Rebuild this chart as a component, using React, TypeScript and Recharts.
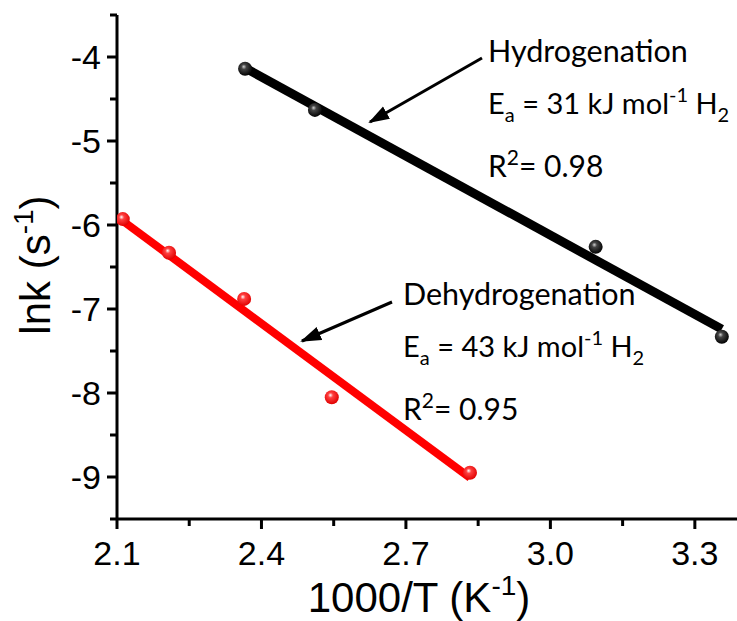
import React from 'react';
import { ComposedChart, Scatter, XAxis, YAxis } from 'recharts';

// values
const hydX = [2.366, 2.511, 3.094, 3.356];
const hydY = [-4.14, -4.63, -6.26, -7.33];
const hydFitX = [2.366, 3.356];
const hydFitY = [-4.13, -7.24];

const dehX = [2.112, 2.208, 2.364, 2.546, 2.833];
const dehY = [-5.93, -6.33, -6.88, -8.05, -8.95];
const dehFitX = [2.1, 2.833];
const dehFitY = [-5.9, -9.01];

const xTicks = [2.1, 2.25, 2.4, 2.55, 2.7, 2.85, 3.0, 3.15, 3.3];
const xMajor = [2.1, 2.4, 2.7, 3.0, 3.3];
const yTicks = [-9.5, -9, -8.5, -8, -7.5, -7, -6.5, -6, -5.5, -5, -4.5, -4, -3.5];
const yMajor = [-9, -8, -7, -6, -5, -4];

const zip = (xs: number[], ys: number[]) => xs.map((x, i) => ({ x, y: ys[i] }));

const hydPts = zip(hydX, hydY);
const hydFit = zip(hydFitX, hydFitY);
const dehPts = zip(dehX, dehY);
const dehFit = zip(dehFitX, dehFitY);

const TICK_FONT = '"Liberation Sans", Arial, sans-serif';
const NOTE_FONT = 'Lato, "Open Sans", sans-serif';

const isMajor = (v: number, list: number[]) => list.some(m => Math.abs(m - v) < 1e-6);

const XTick = (props: any) => {
  const { x, y, payload } = props;
  const major = isMajor(payload.value, xMajor);
  return (
    <g>
      <line x1={x} y1={y} x2={x} y2={y + (major ? 10 : 7)} stroke="#000" strokeWidth={3} />
      {major && (
        <text x={x} y={y + 46} textAnchor="middle" fontFamily={TICK_FONT} fontSize={34} fill="#000">
          {payload.value.toFixed(1)}
        </text>
      )}
    </g>
  );
};

const YTick = (props: any) => {
  const { x, y, payload } = props;
  const major = isMajor(payload.value, yMajor);
  return (
    <g>
      <line x1={x - (major ? 10 : 7)} y1={y} x2={x} y2={y} stroke="#000" strokeWidth={3} />
      {major && (
        <text x={x - 16} y={y + 12} textAnchor="end" fontFamily={TICK_FONT} fontSize={34} fill="#000">
          {payload.value}
        </text>
      )}
    </g>
  );
};

const Ball = ({ cx, cy, grad }: any) => {
  if (cx == null || cy == null) return <g />;
  return <circle cx={cx} cy={cy} r={7} fill={`url(#${grad})`} />;
};

const Note = ({ x, y, name, ea, r2 }: any) => (
  <g fontFamily={NOTE_FONT} fill="#000">
    <text x={x} y={y} fontSize={30.5}>{name}</text>
    <text x={x} y={y + 52} fontSize={29}>
      E<tspan dy={8} fontSize={20}>a</tspan>
      <tspan dy={-8}> = {ea} kJ mol</tspan>
      <tspan dy={-12} fontSize={20}>-1</tspan>
      <tspan dy={12}> H</tspan>
      <tspan dy={8} fontSize={20}>2</tspan>
    </text>
    <text x={x} y={y + 115} fontSize={30}>
      R<tspan dy={-12} fontSize={21}>2</tspan>
      <tspan dy={12}>= {r2}</tspan>
    </text>
  </g>
);

export default function App() {
  return (
    <div style={{ position: 'absolute', left: 0, top: 0, width: 737, height: 621, overflow: 'hidden', background: '#fff' }}>
      <ComposedChart width={760} height={621} margin={{ top: 15, right: 17, bottom: 22, left: 0 }}>
        <defs>
          <radialGradient id="ballBlack" cx="45%" cy="40%" r="60%" fx="40%" fy="35%">
            <stop offset="0%" stopColor="#cfcfcf" />
            <stop offset="30%" stopColor="#444" />
            <stop offset="100%" stopColor="#000" />
          </radialGradient>
          <radialGradient id="ballRed" cx="45%" cy="40%" r="60%" fx="40%" fy="35%">
            <stop offset="0%" stopColor="#ffffff" />
            <stop offset="30%" stopColor="#ff4040" />
            <stop offset="100%" stopColor="#e00000" />
          </radialGradient>
          <marker id="arrowHead" markerUnits="userSpaceOnUse" markerWidth={22} markerHeight={16} refX={19} refY={8} orient="auto">
            <path d="M0,1 L21,8 L0,15 Z" fill="#000" />
          </marker>
        </defs>
        <XAxis
          dataKey="x"
          type="number"
          domain={[2.1, 3.4]}
          ticks={xTicks}
          interval={0}
          height={80}
          tickSize={0}
          tickMargin={0}
          tickLine={false}
          axisLine={{ stroke: '#000', strokeWidth: 3 }}
          tick={<XTick />}
          allowDataOverflow
        />
        <XAxis xAxisId="top" orientation="top" type="number" domain={[2.1, 3.4]} height={0} tick={false} tickLine={false} axisLine={{ stroke: '#000', strokeWidth: 3 }} />
        <YAxis
          dataKey="y"
          type="number"
          domain={[-9.5, -3.5]}
          ticks={yTicks}
          interval={0}
          width={117}
          tickSize={0}
          tickMargin={0}
          tickLine={false}
          axisLine={{ stroke: '#000', strokeWidth: 3 }}
          tick={<YTick />}
          allowDataOverflow
        />
        <YAxis yAxisId="right" orientation="right" type="number" domain={[-9.5, -3.5]} width={0} tick={false} tickLine={false} axisLine={{ stroke: '#000', strokeWidth: 3 }} />

        <Scatter data={hydFit} line={{ stroke: '#000', strokeWidth: 9 }} shape={() => <g />} isAnimationActive={false} legendType="none" />
        <Scatter data={dehFit} line={{ stroke: '#ff0000', strokeWidth: 8 }} shape={() => <g />} isAnimationActive={false} legendType="none" />
        <Scatter data={hydPts} shape={(p: any) => <Ball cx={p.cx} cy={p.cy} grad="ballBlack" />} isAnimationActive={false} legendType="none" />
        <Scatter data={dehPts} shape={(p: any) => <Ball cx={p.cx} cy={p.cy} grad="ballRed" />} isAnimationActive={false} legendType="none" />

        <line x1={482} y1={58} x2={370} y2={122} stroke="#000" strokeWidth={3} markerEnd="url(#arrowHead)" />
        <line x1={392} y1={302} x2={302} y2={341} stroke="#000" strokeWidth={3} markerEnd="url(#arrowHead)" />
        <Note x={488} y={62} name="Hydrogenation" ea="31" r2="0.98" />
        <Note x={403} y={305} name="Dehydrogenation" ea="43" r2="0.95" />

        <text x={419} y={612} textAnchor="middle" fontFamily={TICK_FONT} fontSize={42} fill="#000">
          1000/T (K<tspan dy={-17} fontSize={28}>-1</tspan><tspan dy={17}>)</tspan>
        </text>
        <text x={50} y={265} transform="rotate(-90 50 265)" textAnchor="middle" fontFamily={TICK_FONT} fontSize={42} fill="#000">
          lnk (s<tspan dy={-17} fontSize={28}>-1</tspan><tspan dy={17}>)</tspan>
        </text>
      </ComposedChart>
    </div>
  );
}
